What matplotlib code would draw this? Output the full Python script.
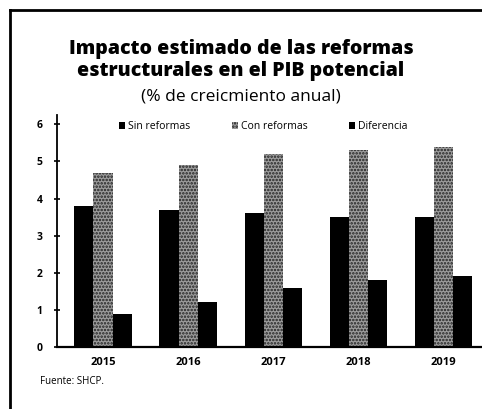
import numpy as np
import matplotlib
matplotlib.use("Agg")
import matplotlib.pyplot as plt
from matplotlib.lines import Line2D

plt.rcParams['font.family'] = ['Open Sans', 'DejaVu Sans']
plt.rcParams['hatch.color'] = '#222222'
plt.rcParams['hatch.linewidth'] = 1.2

years = ['2015', '2016', '2017', '2018', '2019']
sin_reformas = [3.8, 3.7, 3.6, 3.5, 3.5]
con_reformas = [4.7, 4.9, 5.2, 5.3, 5.4]
diferencia = [0.9, 1.2, 1.6, 1.8, 1.9]

fig = plt.figure(figsize=(4.82, 4.09), dpi=100)
ax = fig.add_axes([57 / 482, 62 / 409, 425 / 482, 232 / 409])

x = np.arange(len(years))
w = 0.225
ax.bar(x - w, sin_reformas, w, color='black', label='Sin reformas')
ax.bar(x, con_reformas, w, color='#9c9c9c', hatch='.....', linewidth=0,
       label='Con reformas')
ax.bar(x + w, diferencia, w, color='black', label='Diferencia')

ax.set_xlim(-0.54, 4.45)
ax.set_ylim(0, 6.25)
ax.set_yticks(range(7))
ax.set_xticks(x)
ax.set_xticklabels(years, fontweight='bold', fontsize=8)
for lab in ax.get_yticklabels():
    lab.set_fontweight('bold')
    lab.set_fontsize(7.5)
ax.tick_params(axis='y', direction='inout', length=5, width=1.2, pad=8)
ax.tick_params(axis='x', length=0, pad=7)
for side in ('top', 'right'):
    ax.spines[side].set_visible(False)
ax.spines['left'].set_linewidth(1.3)
ax.spines['bottom'].set_linewidth(1.6)

ax.legend(loc='upper center', bbox_to_anchor=(0.485, 1.015), ncol=3,
          frameon=False, fontsize=7.5, handlelength=0.6, handleheight=0.6,
          handletextpad=0.25, columnspacing=4.0)

fig.text(0.5, 0.853, 'Impacto estimado de las reformas\nestructurales en el PIB potencial',
         ha='center', va='center', fontsize=14, fontweight=800,
         linespacing=1.12)
fig.text(0.5, 0.765, '(% de creicmiento anual)', ha='center', va='center',
         fontsize=12.5)
fig.text(40 / 482, 1 - 381 / 409, 'Fuente: SHCP.', ha='left', va='center',
         fontsize=7)

# page frame
fig.add_artist(Line2D([10 / 482, 10 / 482], [0, 1 - 10 / 409],
                      color='black', linewidth=2))
fig.add_artist(Line2D([10 / 482, 1], [1 - 10 / 409, 1 - 10 / 409],
                      color='black', linewidth=2))

fig.savefig('out.png', dpi=100)
